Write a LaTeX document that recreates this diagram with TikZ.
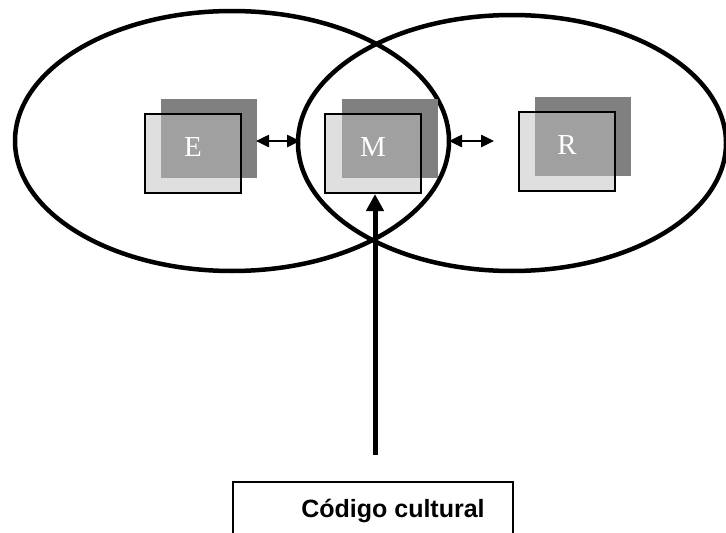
\documentclass[tikz,border=0pt]{standalone}
\usepackage{fontspec}
\setmainfont{Liberation Serif}
\newfontfamily\labelfont{Liberation Sans}
\usetikzlibrary{shapes.geometric,arrows.meta}

\definecolor{frontface}{gray}{0.753}
\definecolor{darkface}{gray}{0.5}

\tikzset{
  ring/.style={draw, ellipse, line width=4.5pt, inner sep=0pt},
  backbox/.style={fill=darkface, minimum width=96pt, minimum height=79pt, inner sep=0pt},
  frontbox/.style={fill=frontface, fill opacity=0.5, draw=black, draw opacity=1, line width=2pt, minimum width=96pt, minimum height=79pt, inner sep=0pt},
  letter/.style={text=white, inner sep=0pt, anchor=base, font=\fontsize{29}{29}\selectfont},
  link/.style={{Triangle[length=13pt,width=12pt]}-{Triangle[length=13pt,width=12pt]}, line width=2.5pt},
  feed/.style={-{Triangle[length=17pt,width=17pt]}, line width=5pt},
  codebox/.style={draw, line width=1.5pt, minimum width=280pt, minimum height=90pt, inner sep=0pt},
}

\begin{document}
\begin{tikzpicture}[x=1pt,y=-1pt]
\useasboundingbox (0,0) rectangle (726,533);
\clip (0,0) rectangle (726,533);

% the two overlapping fields
\node[ring, minimum width=434pt, minimum height=260pt] (ringL) at (232,141) {};
\node[ring, minimum width=428pt, minimum height=256pt] (ringR) at (512,143) {};

% E
\node[backbox] (Eb) at (209,138.5) {};
\node[frontbox] (Ef) at (193,153) {};
\node[letter] (Et) at (193,156) {E};

% M
\node[backbox] (Mb) at (389.5,138.5) {};
\node[frontbox] (Mf) at (373,153.5) {};
\node[letter] (Mt) at (373,156) {M};

% R
\node[backbox] (Rb) at (583,136.5) {};
\node[frontbox] (Rf) at (566.5,151.5) {};
\node[letter] (Rt) at (567,154) {R};

% links between the boxes
\coordinate (linkEa) at (256,141);
\coordinate (linkEb) at (300,141);
\coordinate (linkRa) at (449,141);
\coordinate (linkRb) at (494,141);
\draw[link] (linkEa) -- (linkEb);
\draw[link] (linkRa) -- (linkRb);

% cultural code box and its arrow
\node[codebox] (code) at (373,527) {};
\node[font=\labelfont\bfseries\fontsize{25}{25}\selectfont, inner sep=0pt, anchor=base] (codetext) at (393,517) {Código cultural};
\coordinate (tail) at (375,455);
\draw[feed] (tail) -- (tail |- Mf.south);
\end{tikzpicture}
\end{document}
